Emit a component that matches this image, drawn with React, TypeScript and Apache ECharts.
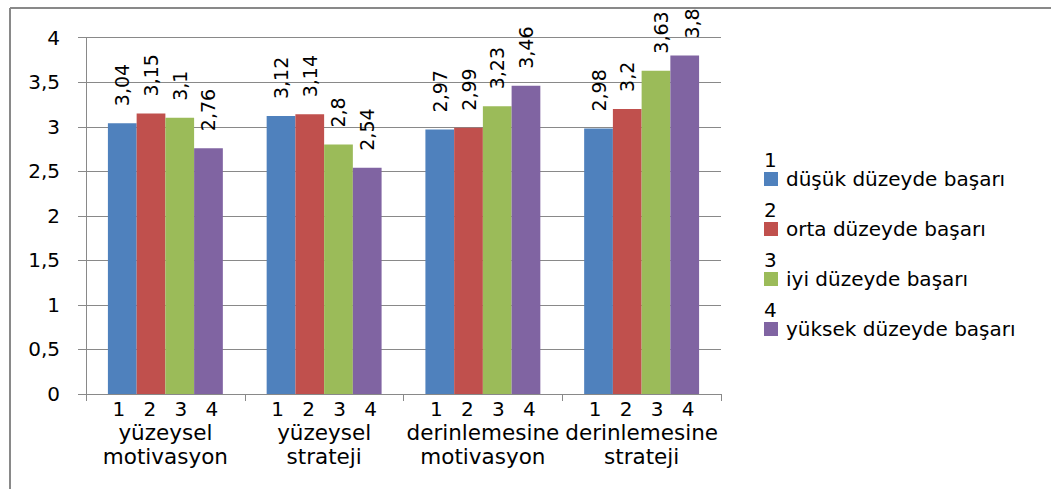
import React, { useEffect, useRef } from "react";
import * as echarts from "echarts";

const categories = ["yüzeysel\nmotivasyon", "yüzeysel\nstrateji", "derinlemesine\nmotivasyon", "derinlemesine\nstrateji"];
const subLabels = ["1", "2", "3", "4"];
const seriesNames = ["düşük düzeyde başarı", "orta düzeyde başarı", "iyi düzeyde başarı", "yüksek düzeyde başarı"];
const legendNumbers = ["1", "2", "3", "4"];
const dusuk = [3.04, 3.12, 2.97, 2.98];
const orta = [3.15, 3.14, 2.99, 3.2];
const iyi = [3.1, 2.8, 3.23, 3.63];
const yuksek = [2.76, 2.54, 3.46, 3.8];
const colors = ["#4F81BD", "#C0504D", "#9BBB59", "#8064A2"];

const FONT = "DejaVu Sans";
const GREY = "#898989";

const fmt = (v: number) => String(v).replace(".", ",");

export default function App() {
  const ref = useRef<HTMLDivElement>(null);
  useEffect(() => {
    if (!ref.current) return;
    const chart = echarts.init(ref.current, null, { renderer: "svg" });
    const values = [dusuk, orta, iyi, yuksek];
    const legendRich: any = {
      n: { fontFamily: FONT, fontSize: 20, lineHeight: 19, color: "#000" },
      t: { fontFamily: FONT, fontSize: 20, lineHeight: 19, color: "#000", padding: [0, 0, 0, 8] },
    };
    colors.forEach((c, i) => {
      legendRich["s" + i] = { width: 14, height: 14, backgroundColor: c };
    });
    chart.setOption({
      animation: false,
      color: colors,
      grid: { left: 86, right: 330, top: 37.7, bottom: 95 },
      graphic: [
        { type: "line", shape: { x1: 10, y1: 8, x2: 1051, y2: 8 }, style: { stroke: GREY, lineWidth: 2 } },
        { type: "line", shape: { x1: 10, y1: 8, x2: 10, y2: 489 }, style: { stroke: GREY, lineWidth: 2 } },
      ],
      legend: {
        orient: "vertical",
        left: 759,
        top: 150,
        padding: 0,
        itemGap: 11,
        itemWidth: 0,
        itemHeight: 0,
        icon: "none",
        selectedMode: false,
        data: seriesNames,
        formatter: (name: string) => {
          const i = seriesNames.indexOf(name);
          return `{n|${legendNumbers[i]}}\n{s${i}|}{t|${name}}`;
        },
        textStyle: { fontFamily: FONT, fontSize: 20, lineHeight: 19, color: "#000", rich: legendRich },
      },
      xAxis: {
        type: "category",
        data: categories,
        axisLine: { lineStyle: { color: GREY, width: 1 } },
        axisTick: { show: true, length: 7, lineStyle: { color: GREY } },
        axisLabel: {
          interval: 0,
          margin: 4,
          formatter: (v: string) => {
            const parts = v.split("\n");
            const nums = subLabels.map((s) => `{d|${s}}`).join("");
            return `${nums}\n{c|${parts[0]}}\n{c|${parts[1]}}`;
          },
          rich: {
            d: { fontFamily: FONT, fontSize: 20, width: 31, align: "center", lineHeight: 22, color: "#000" },
            c: { fontFamily: FONT, fontSize: 21.5, lineHeight: 24, color: "#000" },
          },
        },
      },
      yAxis: {
        type: "value",
        min: 0,
        max: 4,
        interval: 0.5,
        axisLine: { show: true, lineStyle: { color: GREY, width: 1 } },
        axisTick: { show: true, length: 8, lineStyle: { color: GREY } },
        splitLine: { show: true, lineStyle: { color: GREY, width: 1 } },
        axisLabel: {
          margin: 26,
          fontFamily: FONT,
          fontSize: 20,
          color: "#000",
          formatter: (v: number) => fmt(v),
        },
      },
      labelLayout: (p: any) => {
        const top = p.labelRect.y;
        if (top < 16) return { dy: 16 - top };
        return {};
      },
      series: values.map((vals, i) => ({
        type: "bar",
        name: seriesNames[i],
        data: vals,
        barGap: "0%",
        barCategoryGap: "27.6%",
        itemStyle: { color: colors[i] },
        labelLayout: (p: any) => {
          const top = p.labelRect.y;
          if (top < 16) return { dy: 16 - top };
          return {};
        },
        label: {
          show: true,
          position: "top",
          rotate: 90,
          distance: 17,
          align: "left",
          verticalAlign: "middle",
          fontFamily: FONT,
          fontSize: 19,
          color: "#000",
          formatter: (p: any) => fmt(p.value),
        },
      })),
    });
    return () => chart.dispose();
  }, []);
  return (
    <div
      ref={ref}
      style={{ position: "absolute", left: 0, top: 0, width: 1051, height: 489, background: "#fff" }}
    />
  );
}
